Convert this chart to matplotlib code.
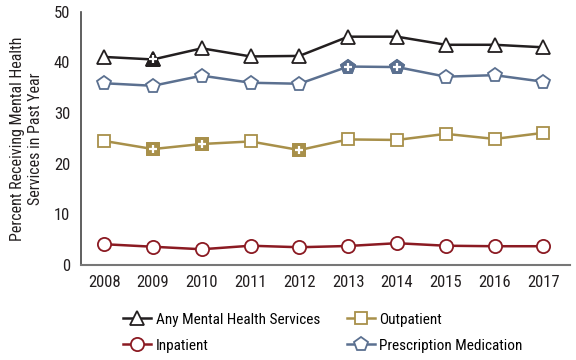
import matplotlib
matplotlib.use("Agg")
import matplotlib.pyplot as plt
from matplotlib.lines import Line2D
from matplotlib import font_manager

years = [2008, 2009, 2010, 2011, 2012, 2013, 2014, 2015, 2016, 2017]
any_mh = [41.1, 40.6, 42.8, 41.2, 41.3, 45.1, 45.1, 43.5, 43.5, 43.0]
outpatient = [24.5, 22.9, 23.9, 24.4, 22.7, 24.8, 24.7, 25.9, 24.9, 26.1]
inpatient = [4.1, 3.6, 3.1, 3.8, 3.5, 3.75, 4.3, 3.8, 3.7, 3.7]
prescription = [35.9, 35.4, 37.4, 36.0, 35.8, 39.2, 39.1, 37.2, 37.5, 36.2]
# years significantly different from 2017 (filled markers with +)
sig_any = [2009]
sig_out = [2009, 2010, 2012]
sig_inp = []
sig_rx = [2013, 2014]

labels = ["Any Mental Health Services", "Inpatient", "Outpatient", "Prescription Medication"]
yticks = [0, 10, 20, 30, 40, 50]

names = {f.name for f in font_manager.fontManager.ttflist}
fam = "DejaVu Sans"
for cand in ["Liberation Sans Narrow", "Roboto Condensed", "Archivo Narrow",
             "PT Sans Narrow", "Fira Sans Condensed", "IBM Plex Sans Condensed",
             "Open Sans Condensed", "Pragati Narrow"]:
    if cand in names:
        fam = cand
        break
plt.rcParams["font.family"] = [fam, "DejaVu Sans"]

fig = plt.figure(figsize=(5.76, 3.6), dpi=100)
ax = fig.add_axes([0.141, 0.264, 0.849, 0.703])

series = [
    (any_mh, sig_any, "#231f20", "^", 10),
    (inpatient, sig_inp, "#8b1a22", "o", 9.5),
    (outpatient, sig_out, "#a8904a", "s", 9),
    (prescription, sig_rx, "#5b7090", "p", 10.5),
]
handles = []
for (vals, sig, col, mk, ms), lab in zip(series, labels):
    ax.plot(years, vals, color=col, lw=1.8, zorder=2)
    ax.plot(years, vals, ls="none", marker=mk, ms=ms, mfc="white",
            mec=col, mew=1.3, zorder=3)
    sx = [y for y in years if y in sig]
    sy = [v for y, v in zip(years, vals) if y in sig]
    if sx:
        ax.plot(sx, sy, ls="none", marker=mk, ms=ms, mfc=col, mec=col,
                mew=1.3, zorder=4)
        ax.plot(sx, sy, ls="none", marker="+", ms=6, mec="white",
                mew=1.6, zorder=5)
    handles.append(Line2D([], [], color=col, lw=1.8, marker=mk, ms=ms,
                          mfc="white", mec=col, mew=1.3))

ax.set_xlim(2007.53, 2017.55)
ax.set_ylim(0, 50)
ax.set_xticks(years)
ax.set_xticklabels([str(y) for y in years])
ax.set_yticks(yticks)
ax.tick_params(axis="both", length=0, labelsize=12, colors="#231f20")
ax.tick_params(axis="x", pad=7)
ax.tick_params(axis="y", pad=8)
for s in ["top", "right"]:
    ax.spines[s].set_visible(False)
ax.spines["left"].set_color("#444444")
ax.spines["bottom"].set_color("#777777")
ax.spines["left"].set_linewidth(1.2)
ax.spines["bottom"].set_linewidth(1.5)

ax.set_ylabel("Percent Receiving Mental Health\nServices in Past Year",
              fontsize=11.5, color="#231f20", linespacing=1.3, va="center")
ax.yaxis.set_label_coords(-0.112, 0.5)

fig.legend(handles=handles, labels=labels, ncol=2, loc="center",
           bbox_to_anchor=(0.561, 0.076), frameon=False, fontsize=11,
           handlelength=1.8, handletextpad=0.3, columnspacing=1.8,
           labelspacing=0.8, borderpad=0)

fig.savefig("out.png", dpi=100)
